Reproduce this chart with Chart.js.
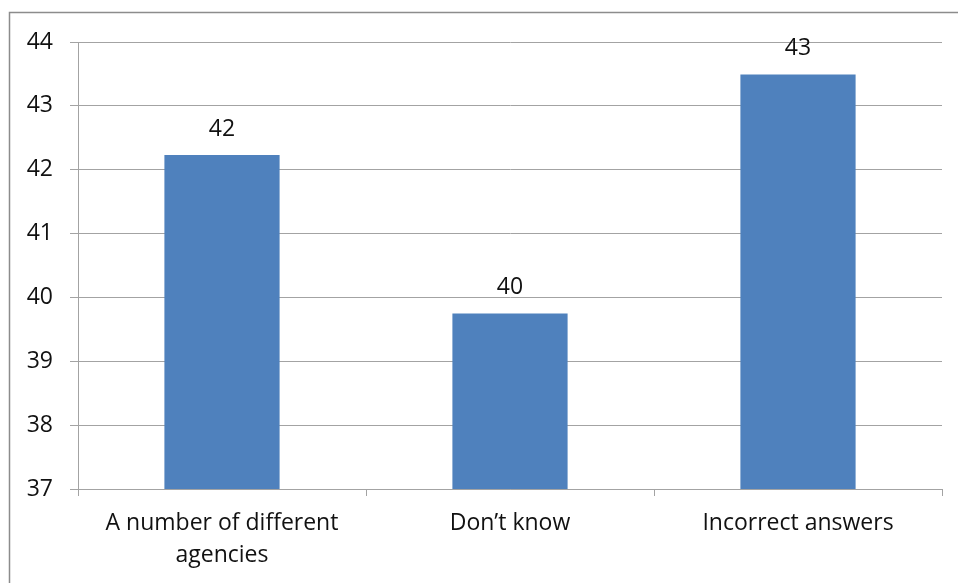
<!DOCTYPE html>
<html>
<head>
<meta charset="utf-8">
<script src="https://cdn.jsdelivr.net/npm/chart.js@4/dist/chart.umd.min.js"></script>
<style>
  html, body { margin: 0; padding: 0; background: #ffffff; }
  #wrap { position: relative; width: 958px; height: 583px; }
</style>
</head>
<body>
<div id="wrap"><canvas id="chart" width="958" height="583"></canvas></div>
<script>
// Categories and values
const categories = [
  ['A number of different', 'agencies'],
  'Don\u2019t know',
  'Incorrect answers'
];
const values = [42.23, 39.75, 43.49];

// Value axis range
const yMin = 37;
const yMax = 44;
const yStep = 1;

const FONT = '"Open Sans", "Liberation Sans", sans-serif';
const FONT_SIZE = 23;
const TEXT = '#111111';
const GRID = '#a3a3a3';

// Outer frame (top and left edges of the chart box)
const framePlugin = {
  id: 'frame',
  beforeDraw(chart) {
    const ctx = chart.ctx;
    ctx.save();
    ctx.strokeStyle = '#8c8c8c';
    ctx.lineWidth = 1.5;
    ctx.beginPath();
    ctx.moveTo(9.5, chart.height);
    ctx.lineTo(9.5, 12.5);
    ctx.lineTo(chart.width, 12.5);
    ctx.stroke();
    ctx.restore();
  }
};

// Value labels above each bar
const valueLabels = {
  id: 'valueLabels',
  afterDatasetsDraw(chart) {
    const ctx = chart.ctx;
    const meta = chart.getDatasetMeta(0);
    ctx.save();
    ctx.font = FONT_SIZE + 'px ' + FONT;
    ctx.fillStyle = TEXT;
    ctx.textAlign = 'center';
    ctx.textBaseline = 'middle';
    meta.data.forEach((bar, i) => {
      const v = chart.data.datasets[0].data[i];
      ctx.fillText(String(Math.round(v)), bar.x, bar.y - 26);
    });
    ctx.restore();
  }
};

new Chart(document.getElementById('chart'), {
  type: 'bar',
  data: {
    labels: categories,
    datasets: [{
      data: values,
      backgroundColor: '#4f81bd',
      borderWidth: 0,
      barPercentage: 0.4,
      categoryPercentage: 1.0
    }]
  },
  options: {
    responsive: false,
    animation: false,
    devicePixelRatio: 1,
    layout: { padding: { top: 42, right: 16, left: 10, bottom: 0 } },
    plugins: {
      legend: { display: false },
      title: { display: false },
      tooltip: { enabled: false }
    },
    scales: {
      x: {
        grid: {
          offset: true,
          drawOnChartArea: false,
          drawTicks: true,
          tickLength: 7,
          color: GRID
        },
        border: { color: GRID, width: 1 },
        ticks: {
          color: TEXT,
          font: { family: FONT, size: FONT_SIZE, lineHeight: 1.38 },
          padding: 12,
          maxRotation: 0,
          autoSkip: false
        },
        afterFit(scale) { scale.height = 583 - 489; }
      },
      y: {
        min: yMin,
        max: yMax,
        grid: {
          color: GRID,
          drawTicks: true,
          tickLength: 8
        },
        border: { color: GRID, width: 1 },
        ticks: {
          stepSize: yStep,
          color: TEXT,
          font: { family: FONT, size: FONT_SIZE },
          padding: 17
        },
        afterFit(scale) { scale.width = 78 - 10; }
      }
    }
  },
  plugins: [framePlugin, valueLabels]
});
</script>
</body>
</html>
